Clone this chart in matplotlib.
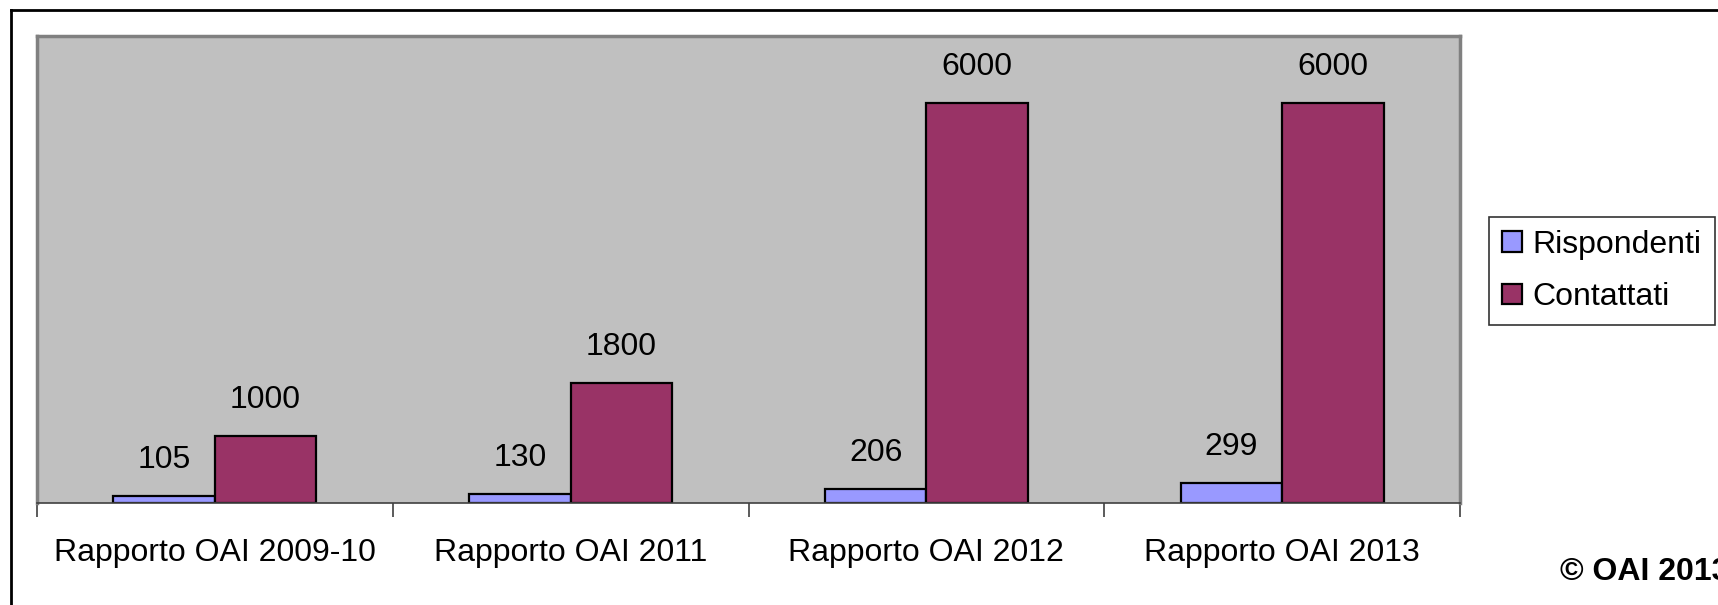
import matplotlib
matplotlib.use("Agg")
import matplotlib.pyplot as plt
from matplotlib.lines import Line2D
import numpy as np

plt.rcParams['font.family'] = ['Liberation Sans', 'DejaVu Sans']

categories = ["Rapporto OAI 2009-10", "Rapporto OAI 2011", "Rapporto OAI 2012", "Rapporto OAI 2013"]
rispondenti = [105, 130, 206, 299]
contattati = [1000, 1800, 6000, 6000]

fs = 23

fig = plt.figure(figsize=(17.18, 6.05), dpi=100)
ax = fig.add_axes([37/1718, 1-503/605, (1460-37)/1718, (503-36)/605])

x = np.arange(len(categories))
w = 0.285
b1 = ax.bar(x - w/2, rispondenti, w, color="#9999FF", edgecolor="black", linewidth=1.6, label="Rispondenti")
b2 = ax.bar(x + w/2, contattati, w, color="#993366", edgecolor="black", linewidth=1.6, label="Contattati")
ax.bar_label(b1, fontsize=fs, padding=15)
ax.bar_label(b2, fontsize=fs, padding=15)

ax.set_facecolor("#C0C0C0")
ax.set_xlim(-0.5, 3.5)
ax.set_ylim(0, 7000)
ax.set_yticks([])
ax.set_xticks(np.arange(-0.5, 4, 1))
ax.set_xticklabels([])
ax.set_xticks(x, minor=True)
ax.set_xticklabels(categories, minor=True, fontsize=fs)
ax.tick_params(axis="x", which="major", length=10, width=1.2, color="#404040")
ax.tick_params(axis="x", which="minor", length=0, pad=25)
for s in ["top", "right", "left"]:
    ax.spines[s].set_color("#808080")
    ax.spines[s].set_linewidth(2.5)
ax.spines["bottom"].set_color("#404040")
ax.spines["bottom"].set_linewidth(1.2)

leg = fig.legend(handles=[b1, b2], loc="upper left", bbox_to_anchor=(1489/1718, 1-217/605),
                 fontsize=fs, frameon=True, fancybox=False, edgecolor="black",
                 handlelength=0.62, handleheight=0.62, handletextpad=0.35, labelspacing=0.7,
                 borderpad=0.4, borderaxespad=0)
leg.get_frame().set_linewidth(1.2)

fig.text(1560/1718, 1-572/605, "© OAI 2013", fontsize=fs, fontweight="bold", ha="left", va="center")

# outer chart frame
fig.add_artist(Line2D([11/1718, 11/1718], [0, 1-10/605], color="black", linewidth=2))
fig.add_artist(Line2D([11/1718, 1], [1-10/605, 1-10/605], color="black", linewidth=2))

fig.savefig("out.png", dpi=100)
